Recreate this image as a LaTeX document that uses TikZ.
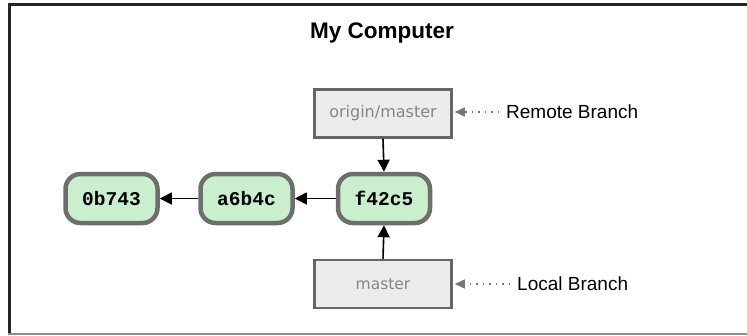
\documentclass[tikz,border=0pt]{standalone}
\usepackage{fontspec}
\setmainfont{Liberation Sans}
\newfontfamily\hashfont{Liberation Mono}
\newfontfamily\reffont{DejaVu Sans}
\usetikzlibrary{arrows.meta}
\definecolor{commitfill}{HTML}{C9EFCC}
\definecolor{commitline}{HTML}{6E6E6E}
\definecolor{reffill}{HTML}{ECECEC}
\definecolor{refline}{HTML}{666666}
\definecolor{reftext}{HTML}{858585}
\definecolor{pointergray}{HTML}{777777}
\tikzset{
  commit/.style={draw=commitline, fill=commitfill, line width=4.5pt,
    rounded corners=15pt, minimum width=92pt, minimum height=49pt,
    inner sep=0pt, font=\hashfont\bfseries\fontsize{19.5}{20}\selectfont},
  branchref/.style={draw=refline, fill=reffill, line width=2.5pt,
    minimum width=137pt, minimum height=48pt, inner sep=0pt,
    text=reftext},
  sidelabel/.style={inner sep=0pt, anchor=west, font=\fontsize{19}{20}\selectfont},
  parent/.style={-{Triangle[length=12pt,width=12pt]}, line width=1.6pt, black},
  pointerline/.style={-{Triangle[length=10pt,width=9pt]}, line width=1.4pt,
    pointergray, dash pattern=on 1.5pt off 5pt},
}
\begin{document}
\begin{tikzpicture}[x=1pt,y=-1pt]
\useasboundingbox (0,0) rectangle (747,335);
\clip (0,0) rectangle (747,335);
% outer frame
\draw[line width=3pt, black!85] (9.5,333.5) -- (9.5,4.7) -- (760,4.7);
\draw[line width=2.5pt, black!45] (8,333.8) -- (760,333.8);

\node[font=\bfseries\fontsize{22.5}{24}\selectfont] (title) at (382,33) {My Computer};

% commits
\node[commit] (c0) at (111.5,198.5) {0b743};
\node[commit] (c1) at (246.5,198.5) {a6b4c};
\node[commit] (c2) at (384,198.5) {f42c5};

% branch references
\node[branchref, font=\reffont\fontsize{16}{18}\selectfont] (origin) at (383,113.5) {origin/master};
\node[branchref, font=\reffont\fontsize{15.5}{18}\selectfont] (master) at (383,284) {master};

% labels
\node[sidelabel] (remote) at (506,112) {Remote Branch};
\node[sidelabel] (local) at (517,284) {Local Branch};

% parent links
\draw[parent] (c2.west) -- (c1.east);
\draw[parent] (c1.west) -- (c0.east);
\draw[parent] (origin.south) -- (c2.north);
\draw[parent] (master.north) -- (c2.south);

% pointers from labels to references
\draw[pointerline] ([xshift=-7pt]remote.west) -- ([xshift=2pt]origin.east |- remote.west);
\draw[pointerline] ([xshift=-7pt]local.west) -- ([xshift=2pt]master.east |- local.west);
\end{tikzpicture}
\end{document}
